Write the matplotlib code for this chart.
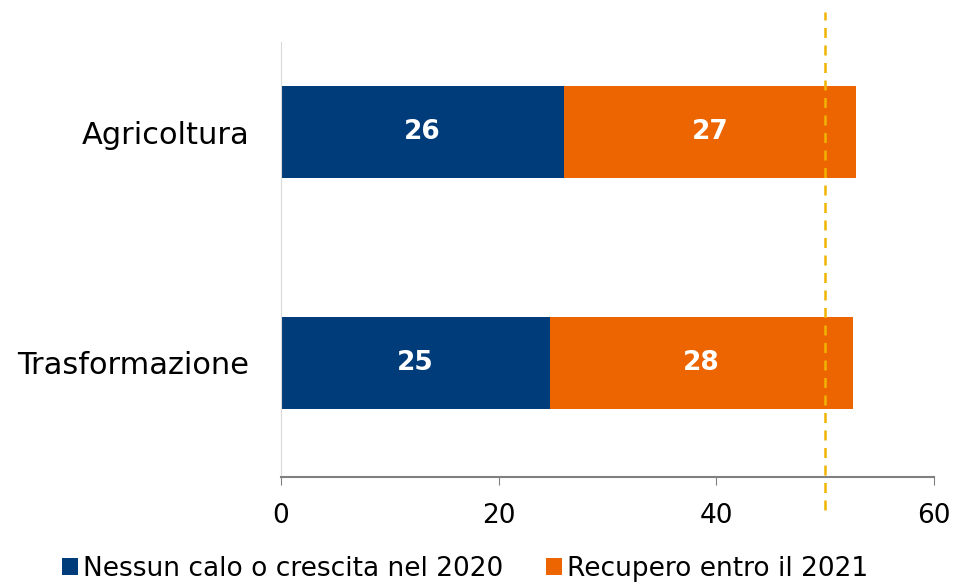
import matplotlib.pyplot as plt

plt.rcParams['font.family'] = ['DejaVu Sans']

settori = ["Trasformazione", "Agricoltura"]
nessun_calo = [24.7, 26.0]
recupero = [27.9, 26.8]
serie = ["Nessun calo o crescita nel 2020", "Recupero entro il 2021"]
soglia = 50

blu = "#003b7a"
arancio = "#ec6500"

fig = plt.figure(figsize=(9.55, 5.85), dpi=100)
ax = fig.add_axes([0.2942, 0.1846, 0.6838, 0.7434])

y = list(range(len(settori)))
b1 = ax.barh(y, nessun_calo, height=0.4, color=blu, label=serie[0])
b2 = ax.barh(y, recupero, left=nessun_calo, height=0.4, color=arancio, label=serie[1])

for i in y:
    ax.text(nessun_calo[i] / 2, i, f"{nessun_calo[i]:.0f}", color="white",
            ha="center", va="center", fontsize=19, fontweight="bold")
    ax.text(nessun_calo[i] + recupero[i] / 2, i, f"{recupero[i]:.0f}", color="white",
            ha="center", va="center", fontsize=19, fontweight="bold")

ax.axvline(soglia, ymin=-0.076, ymax=1.069, color="#f0b400", linestyle=(0, (4, 3)),
           linewidth=1.8, clip_on=False)

ax.set_xlim(0, 60)
ax.set_ylim(-0.494, 1.39)
ax.set_xticks([0, 20, 40, 60])
ax.set_yticks(y)
ax.set_yticklabels(settori, fontsize=22)
ax.tick_params(axis="x", labelsize=19, length=6, color="#808080", pad=13)
ax.tick_params(axis="y", length=0, pad=23)

for s in ["top", "right"]:
    ax.spines[s].set_visible(False)
ax.spines["left"].set_color("#d9d9d9")
ax.spines["bottom"].set_color("#808080")
ax.spines["bottom"].set_linewidth(1.5)

fig.legend(handles=[b1, b2], loc="lower center", bbox_to_anchor=(0.487, -0.035), ncol=2,
           frameon=False, fontsize=19, handlelength=0.6, handleheight=0.6,
           handletextpad=0.2, columnspacing=1.6)

fig.savefig("out.png", dpi=100)
